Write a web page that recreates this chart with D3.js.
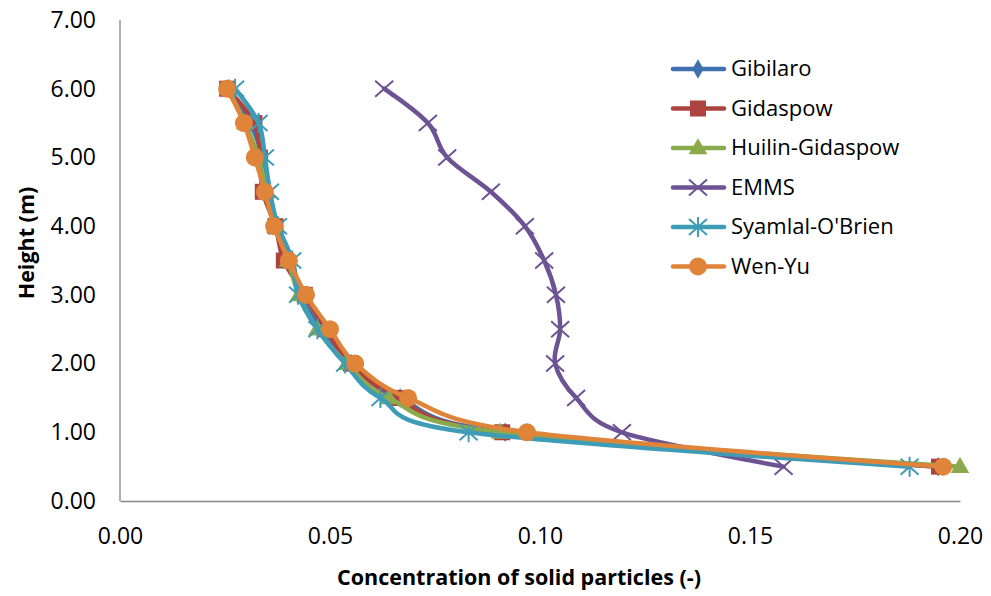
<!DOCTYPE html>
<html lang="en">
<head>
    <meta charset="UTF-8">
    <script type="text/javascript" src="https://d3js.org/d3.v7.min.js"></script>
    <title>Solid concentration profile</title>
    <style>
        body { margin: 0; background: #fff; }
        text { font-family: "Open Sans", Lato, sans-serif; fill: #000; }
    </style>
</head>
<body>
<div id="Area"></div>
<script>
    // heights (m)
    const heights = [0.5, 1.0, 1.5, 2.0, 2.5, 3.0, 3.5, 4.0, 4.5, 5.0, 5.5, 6.0];

    // concentration of solid particles, one list per drag model (bottom to top)
    const gibilaro = [0.1948, 0.0917, 0.0667, 0.0550, 0.0480, 0.0430, 0.0410, 0.0376, 0.0350, 0.0340, 0.0310, 0.0260];
    const gidaspow = [0.1950, 0.0910, 0.0660, 0.0550, 0.0490, 0.0440, 0.0390, 0.0370, 0.0340, 0.0333, 0.0320, 0.0255];
    const huilin   = [0.2000, 0.0905, 0.0640, 0.0540, 0.0470, 0.0426, 0.0400, 0.0370, 0.0350, 0.0330, 0.0298, 0.0257];
    const emms     = [0.1580, 0.1195, 0.1086, 0.1036, 0.1048, 0.1038, 0.1010, 0.0964, 0.0883, 0.0779, 0.0733, 0.0629];
    const syamlal  = [0.1880, 0.0830, 0.0620, 0.0536, 0.0470, 0.0424, 0.0410, 0.0376, 0.0357, 0.0345, 0.0330, 0.0274];
    const wenyu    = [0.1960, 0.0969, 0.0686, 0.0560, 0.0500, 0.0443, 0.0402, 0.0367, 0.0345, 0.0321, 0.0295, 0.0255];

    const seriesNames = ["Gibilaro", "Gidaspow", "Huilin-Gidaspow", "EMMS", "Syamlal-O'Brien", "Wen-Yu"];
    const seriesValues = [gibilaro, gidaspow, huilin, emms, syamlal, wenyu];
    const seriesColors = ["#3F71B1", "#AD4340", "#8BAA4B", "#6D5393", "#3F9CB6", "#E0843A"];
    const seriesMarkers = ["diamond", "square", "triangle", "x", "star", "circle"];

    const xTicks = [0, 0.05, 0.10, 0.15, 0.20];
    const yTicks = [0, 1, 2, 3, 4, 5, 6, 7];

    const W = 991, H = 596;
    const svg = d3.select("#Area").append("svg")
        .attr("width", W).attr("height", H);

    const x = d3.scaleLinear().domain([0, 0.2]).range([120, 960]);
    const y = d3.scaleLinear().domain([0, 7]).range([501, 20]);

    // axes
    const xAxis = svg.append("g")
        .attr("transform", "translate(0,501)")
        .call(d3.axisBottom(x).tickValues(xTicks).tickSize(0).tickPadding(27).tickFormat(d3.format(".2f")));
    const yAxis = svg.append("g")
        .attr("transform", "translate(120,0)")
        .call(d3.axisLeft(y).tickValues(yTicks).tickSize(0).tickPadding(24).tickFormat(d3.format(".2f")));
    [xAxis, yAxis].forEach(a => {
        a.select(".domain").attr("stroke", "#868686").attr("stroke-width", 1.3);
        a.selectAll("text").style("font-size", "23px").attr("fill", "#000");
    });
    yAxis.select(".domain").attr("d", "M0," + y(7) + "V" + y(0));

    // axis titles
    svg.append("text")
        .attr("x", 519).attr("y", 585)
        .attr("text-anchor", "middle")
        .style("font-size", "21.5px").style("font-weight", "bold")
        .text("Concentration of solid particles (-)");
    svg.append("text")
        .attr("transform", "translate(34,243) rotate(-90)")
        .attr("text-anchor", "middle")
        .style("font-size", "21.5px").style("font-weight", "bold")
        .text("Height (m)");

    const line = d3.line()
        .x(d => x(d[0])).y(d => y(d[1]))
        .curve(d3.curveCardinal.tension(0));

    function marker(g, type, color, cx, cy) {
        if (type === "diamond") {
            g.append("path").attr("d", d3.symbol(d3.symbolDiamond, 110)())
                .attr("transform", "translate(" + cx + "," + cy + ")").attr("fill", color);
        } else if (type === "square") {
            g.append("rect").attr("x", cx - 8).attr("y", cy - 8).attr("width", 16).attr("height", 16).attr("fill", color);
        } else if (type === "triangle") {
            g.append("path").attr("d", d3.symbol(d3.symbolTriangle, 150)())
                .attr("transform", "translate(" + cx + "," + (cy + 1) + ")").attr("fill", color);
        } else if (type === "x") {
            g.append("path").attr("d", "M-9,-8L9,8M-9,8L9,-8")
                .attr("transform", "translate(" + cx + "," + cy + ")")
                .attr("stroke", color).attr("stroke-width", 2).attr("fill", "none");
        } else if (type === "star") {
            g.append("path").attr("d", "M-9,-8L9,8M-9,8L9,-8M0,-10V10")
                .attr("transform", "translate(" + cx + "," + cy + ")")
                .attr("stroke", color).attr("stroke-width", 2).attr("fill", "none");
        } else {
            g.append("circle").attr("cx", cx).attr("cy", cy).attr("r", 9).attr("fill", color);
        }
    }

    // series
    seriesValues.forEach((vals, i) => {
        const pts = vals.map((v, k) => [v, heights[k]]);
        const g = svg.append("g");
        g.append("path").datum(pts)
            .attr("d", line)
            .attr("fill", "none")
            .attr("stroke", seriesColors[i])
            .attr("stroke-width", 4.5)
            .attr("stroke-linejoin", "round")
            .attr("stroke-linecap", "round");
        pts.forEach(p => marker(g, seriesMarkers[i], seriesColors[i], x(p[0]), y(p[1])));
    });

    // legend
    const legend = svg.append("g");
    seriesNames.forEach((name, i) => {
        const ly = 69 + i * 39.5;
        legend.append("line")
            .attr("x1", 673).attr("x2", 724).attr("y1", ly).attr("y2", ly)
            .attr("stroke", seriesColors[i]).attr("stroke-width", 4.5).attr("stroke-linecap", "round");
        marker(legend, seriesMarkers[i], seriesColors[i], 698, ly);
        legend.append("text")
            .attr("x", 731).attr("y", ly + 7)
            .style("font-size", "22px")
            .text(name);
    });
</script>
</body>
</html>
